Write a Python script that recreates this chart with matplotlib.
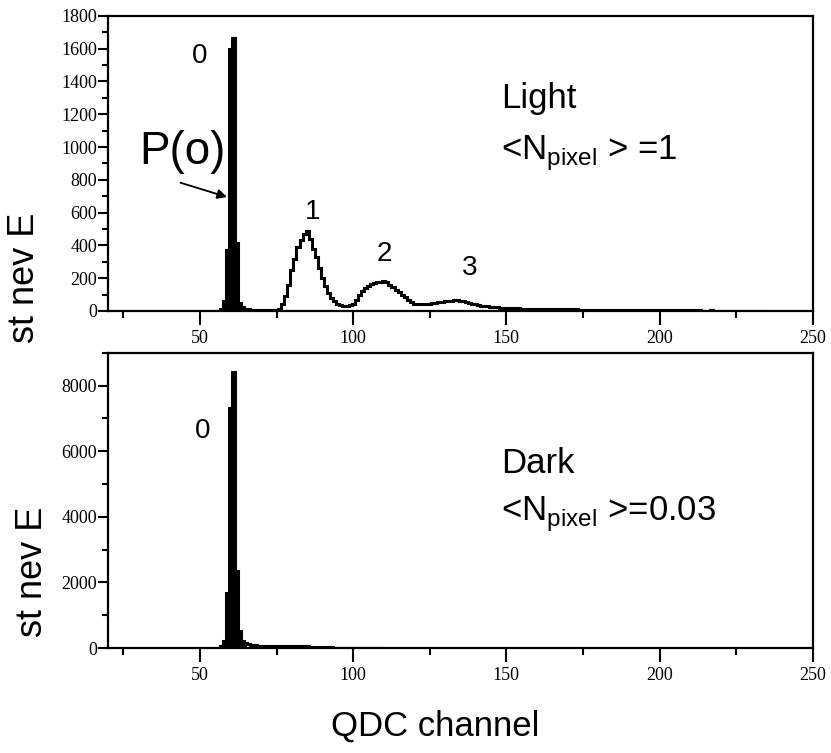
import matplotlib
matplotlib.use('Agg')
import matplotlib.pyplot as plt
from matplotlib.ticker import MultipleLocator
import numpy as np

plt.rcParams['font.family'] = ['Liberation Sans', 'DejaVu Sans']
plt.rcParams['mathtext.fontset'] = 'custom'
plt.rcParams['mathtext.rm'] = 'Liberation Sans'

# light run: QDC channel 56..235, counts per channel
light_start = 56
light_counts = [
    0, 10, 60, 370, 1600, 1665, 415, 50, 25, 15,          # 56-65
    10, 8, 6, 5, 5, 5, 5, 5, 6, 8,                       # 66-75
    15, 40, 90, 160, 250, 320, 390, 430, 470, 485,        # 76-85
    440, 380, 330, 260, 200, 150, 110, 80, 60, 45,        # 86-95
    38, 32, 30, 35, 45, 70, 100, 120, 140, 155,           # 96-105
    165, 170, 175, 178, 180, 175, 160, 145, 130, 115,     # 106-115
    100, 85, 70, 55, 45, 40, 40, 42, 45, 45,              # 116-125
    48, 50, 52, 55, 58, 60, 62, 65, 65, 62,               # 126-135
    60, 55, 50, 45, 40, 36, 33, 30, 28, 26,               # 136-145
    24, 22, 20, 19, 18, 17, 17, 16, 16, 15,               # 146-155
    15, 14, 15, 14, 13, 13, 12, 13, 12, 11,               # 156-165
    11, 12, 10, 10, 11, 10, 9, 10, 9, 9,                  # 166-175
    8, 9, 8, 8, 7, 8, 7, 7, 6, 7,                         # 176-185
    6, 6, 6, 5, 6, 5, 5, 6, 5, 4,                         # 186-195
    5, 4, 4, 5, 4, 4, 3, 4, 3, 4,                         # 196-205
    3, 3, 3, 2, 3, 3, 2, 3, 2, 2,                         # 206-215
    2, 3, 2, 2, 1, 2, 1, 2, 1, 1,                         # 216-225
    1, 1, 0, 1, 0, 0, 0, 0, 0, 0,                         # 226-235
]

# dark run: QDC channel 56..110
dark_start = 56
dark_counts = [
    0, 50, 200, 1670, 7330, 8420, 2340, 525, 220, 140,    # 56-65
    110, 95, 85, 75, 70, 65, 60, 55, 55, 50,              # 66-75
    50, 55, 60, 65, 60, 60, 55, 55, 50, 50,               # 76-85
    45, 45, 40, 40, 35, 30, 25, 20, 15, 10,               # 86-95
    5, 3, 3, 2, 2, 2, 1, 1, 1, 0,                         # 96-105
    0, 0, 0, 0, 0,                                        # 106-110
]

ped_lo, ped_hi = 57, 65   # pedestal channels drawn filled


def edges_of(start, counts):
    return np.arange(start, start + len(counts) + 1) - 0.5


def draw_hist(ax, start, counts):
    counts = np.array(counts, dtype=float)
    edges = edges_of(start, counts)
    ax.stairs(counts, edges, color='black', lw=2.2, baseline=None)
    i0, i1 = ped_lo - start, ped_hi - start + 1
    ax.stairs(counts[i0:i1], edges[i0:i1 + 1], color='black', fill=True)


def style_axis(ax, ymax, ymaj, ymin):
    ax.set_xlim(20, 250)
    ax.set_ylim(0, ymax)
    ax.xaxis.set_major_locator(MultipleLocator(50))
    ax.xaxis.set_minor_locator(MultipleLocator(25))
    ax.yaxis.set_major_locator(MultipleLocator(ymaj))
    ax.yaxis.set_minor_locator(MultipleLocator(ymin))
    for s in ax.spines.values():
        s.set_linewidth(1.6)
    ax.tick_params(axis='x', which='major', direction='out', length=10, width=1.5, pad=4)
    ax.tick_params(axis='x', which='minor', direction='out', length=5, width=1.5)
    ax.tick_params(axis='y', which='major', direction='out', length=7, width=1.5, pad=1)
    ax.tick_params(axis='y', which='minor', direction='out', length=4, width=1.5)
    for lab in ax.get_xticklabels() + ax.get_yticklabels():
        lab.set_family('Liberation Serif')
        lab.set_fontsize(13)


fig = plt.figure(figsize=(8.31, 7.53), dpi=100)
ax1 = fig.add_axes([0.130, 0.587, 0.848, 0.392])
ax2 = fig.add_axes([0.130, 0.1394, 0.848, 0.392])

draw_hist(ax1, light_start, light_counts)
style_axis(ax1, 1800, 200, 100)
draw_hist(ax2, dark_start, dark_counts)
style_axis(ax2, 9000, 2000, 1000)

# top panel labels
ax1.text(50, 1555, '0', fontsize=20, ha='center', va='center')
ax1.text(44.4, 970, 'P(o)', fontsize=33, ha='center', va='center')
ax1.annotate('', xy=(59.7, 690), xytext=(42.8, 787),
             arrowprops=dict(arrowstyle='-|>', color='black', lw=1.3, mutation_scale=14))
ax1.text(86.8, 604, '1', fontsize=20, ha='center', va='center')
ax1.text(110.2, 348, '2', fontsize=20, ha='center', va='center')
ax1.text(137.9, 262, '3', fontsize=20, ha='center', va='center')
ax1.text(148.3, 1238, 'Light', fontsize=25, va='baseline')
ax1.text(148.3, 921, r'<N$_\mathregular{pixel}$ > =1', fontsize=25, va='baseline')

# bottom panel labels
ax2.text(50.9, 6605, '0', fontsize=20, ha='center', va='center')
ax2.text(148.3, 5333, 'Dark', fontsize=25, va='baseline')
ax2.text(148.3, 3878, r'<N$_\mathregular{pixel}$ >=0.03', fontsize=25, va='baseline')

fig.text(25 / 831, 1 - 278 / 753, 'st nev E', fontsize=26, rotation=90, ha='center', va='center')
fig.text(33 / 831, 1 - 572 / 753, 'st nev E', fontsize=26, rotation=90, ha='center', va='center')
fig.text(435 / 831, 1 - 726 / 753, 'QDC channel', fontsize=25, ha='center', va='center')

fig.savefig('out.png', dpi=100)
